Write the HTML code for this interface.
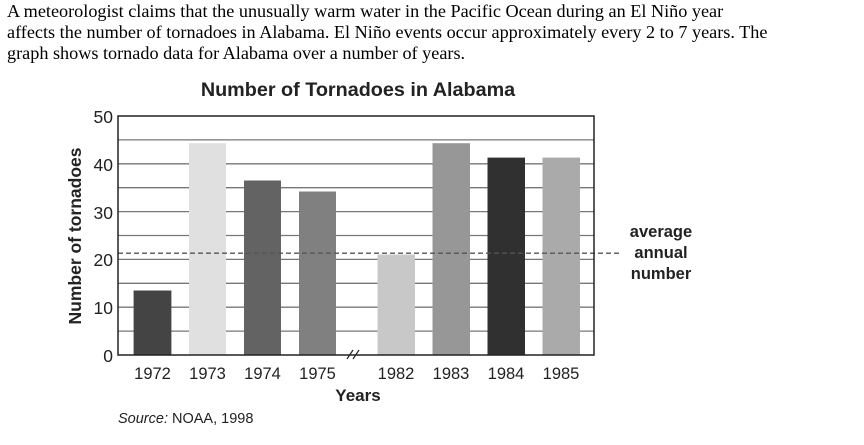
<!DOCTYPE html><html><head><style>body{margin:0;background:#fff;width:864px;height:445px;overflow:hidden}</style></head><body>
<svg width="864" height="445" xmlns="http://www.w3.org/2000/svg" style="position:absolute;left:0;top:0">
<g font-family="Liberation Serif, serif" font-size="18.2" fill="#000">
<text x="7" y="17">A meteorologist claims that the unusually warm water in the Pacific Ocean during an El Niño year</text>
<text x="7" y="38">affects the number of tornadoes in Alabama. El Niño events occur approximately every 2 to 7 years. The</text>
<text x="7" y="59">graph shows tornado data for Alabama over a number of years.</text>
</g>
<g font-family="Liberation Sans, sans-serif" fill="#222">
<text x="358" y="96" font-size="19.8" font-weight="bold" text-anchor="middle">Number of Tornadoes in Alabama</text>
<g stroke="#777" stroke-width="1.3">
<line x1="118" x2="594" y1="139.9" y2="139.9"/><line x1="118" x2="594" y1="163.8" y2="163.8"/><line x1="118" x2="594" y1="187.7" y2="187.7"/><line x1="118" x2="594" y1="211.6" y2="211.6"/><line x1="118" x2="594" y1="235.5" y2="235.5"/><line x1="118" x2="594" y1="259.4" y2="259.4"/><line x1="118" x2="594" y1="283.3" y2="283.3"/><line x1="118" x2="594" y1="307.2" y2="307.2"/><line x1="118" x2="594" y1="331.1" y2="331.1"/>
</g>
<rect x="133.6" y="290.5" width="37.8" height="64.5" fill="#444"/>
<rect x="189" y="143.2" width="37" height="211.8" fill="#e0e0e0"/>
<rect x="244" y="180.5" width="37" height="174.5" fill="#636363"/>
<rect x="299" y="191.5" width="37" height="163.5" fill="#808080"/>
<rect x="377.5" y="254.6" width="37.5" height="100.4" fill="#c8c8c8"/>
<rect x="432.5" y="143.2" width="37.5" height="211.8" fill="#979797"/>
<rect x="487.5" y="157.6" width="37.5" height="197.4" fill="#303030"/>
<rect x="542.5" y="157.6" width="37.5" height="197.4" fill="#aaaaaa"/>
<line x1="118" x2="622" y1="253.2" y2="253.2" stroke="#555" stroke-width="1.3" stroke-dasharray="5,3"/>
<rect x="118" y="116" width="476" height="239" fill="none" stroke="#222" stroke-width="1.5"/>
<line x1="347" y1="359" x2="353" y2="350" stroke="#222" stroke-width="1.2"/><line x1="353" y1="359" x2="359" y2="350" stroke="#222" stroke-width="1.2"/>
<g font-size="17.5" text-anchor="end">
<text x="113" y="123">50</text><text x="113" y="171">40</text><text x="113" y="219">30</text><text x="113" y="266">20</text><text x="113" y="314">10</text><text x="113" y="362">0</text>
</g>
<g font-size="16.5" text-anchor="middle">
<text x="152.5" y="379">1972</text><text x="207.5" y="379">1973</text><text x="262.5" y="379">1974</text><text x="317.5" y="379">1975</text><text x="396" y="379">1982</text><text x="451" y="379">1983</text><text x="506" y="379">1984</text><text x="561" y="379">1985</text>
</g>
<text x="358" y="401" font-size="17" font-weight="bold" text-anchor="middle">Years</text>
<text transform="translate(81,236) rotate(-90)" font-size="17.5" font-weight="bold" text-anchor="middle">Number of tornadoes</text>
<g font-size="16.5" font-weight="bold" text-anchor="middle">
<text x="661" y="237">average</text><text x="661" y="258">annual</text><text x="661" y="279">number</text>
</g>
<text x="118" y="423" font-size="14.5"><tspan font-style="italic">Source:</tspan> NOAA, 1998</text>
</g>
</svg></body></html>
